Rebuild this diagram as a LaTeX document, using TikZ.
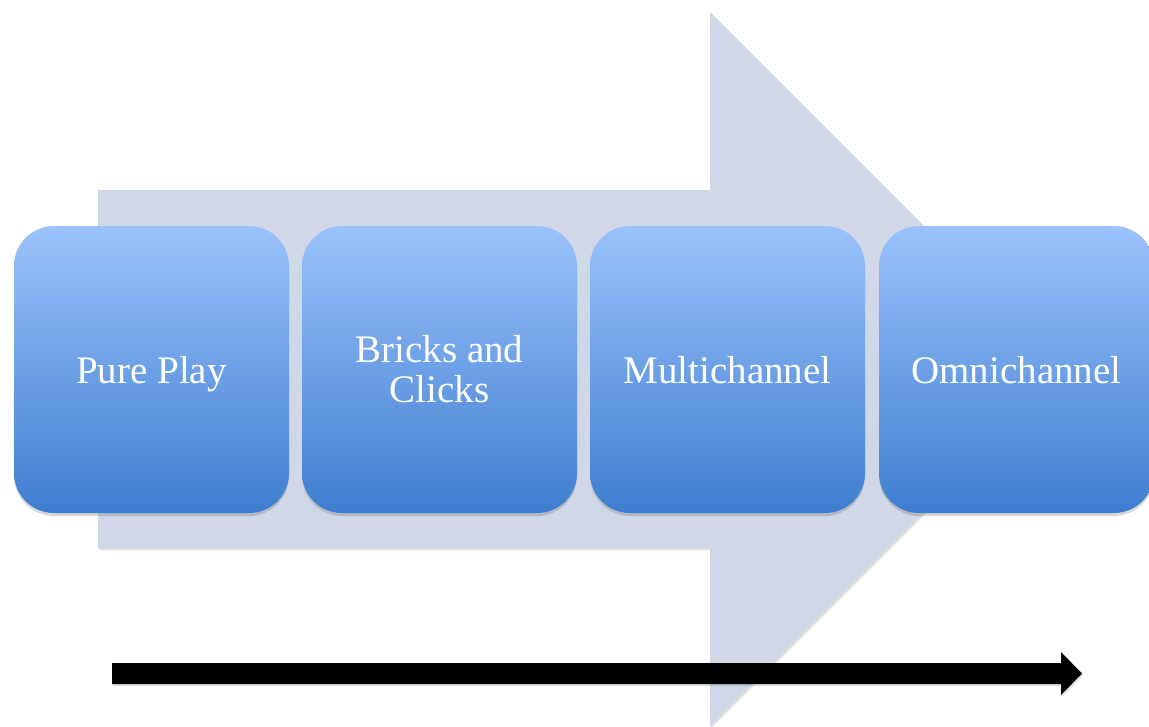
\documentclass[tikz,border=0pt]{standalone}
\usepackage{fontspec}
\setmainfont{Liberation Serif}
\usetikzlibrary{shadows}
\definecolor{bigarrow}{HTML}{D0D8E7}
\definecolor{boxtop}{HTML}{9CC2FC}
\definecolor{boxmid}{HTML}{80AAEC}
\definecolor{boxbot}{HTML}{3E7ECF}
\tikzset{
  stagebox/.style={minimum width=275pt, minimum height=287pt, rounded corners=40pt,
    top color=boxtop, middle color=boxmid, bottom color=boxbot, text=white, align=center,
    font=\fontsize{39}{40}\selectfont, inner sep=0pt,
    drop shadow={shadow xshift=0pt, shadow yshift=-3pt, opacity=0.22, fill=black!70}},
  oneline/.style={text height=27pt, text depth=0pt},
  bigarrowstyle/.style={fill=bigarrow, drop shadow={shadow xshift=1pt, shadow yshift=-2pt, opacity=0.2, fill=black!60}},
  timeline/.style={fill=black, drop shadow={shadow xshift=1pt, shadow yshift=-2pt, opacity=0.2, fill=black!60}}
}
\begin{document}
\begin{tikzpicture}[x=1pt,y=-1pt]
\useasboundingbox (0,0) rectangle (1149,726);
\clip (0,0) rectangle (1149,726);
\fill[white] (0,0) rectangle (1149,726);
% big background arrow
\path[bigarrowstyle] (98,190) -- (710,190) -- (710,12) -- (1067,369) -- (710,726) -- (710,548) -- (98,548) -- cycle;
% stage boxes
\node[stagebox, oneline] (pure) at (151.5,369.5) {Pure Play};
\node[stagebox] (bricks) at (439.5,369.5) {Bricks and\\Clicks};
\node[stagebox, oneline] (multi) at (727.5,369.5) {Multichannel};
\node[stagebox, oneline] (omni) at (1016.5,369.5) {Omnichannel};
% timeline arrow
\coordinate (tstart) at (112,673.5);
\coordinate (tend) at (1082,673.5);
\path[timeline] (tstart) ++(0,-10.5) -- (1061,663) -- (1061,652) -- (tend) -- (1061,695) -- (1061,684) -- (112,684) -- cycle;
\end{tikzpicture}
\end{document}
